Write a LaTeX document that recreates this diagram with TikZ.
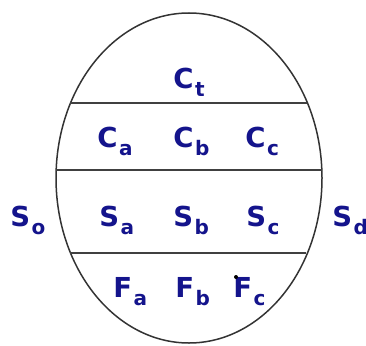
\documentclass[tikz,border=0pt]{standalone}
\usepackage{fontspec}
\setsansfont{DejaVu Sans}
\usetikzlibrary{positioning}
\definecolor{navy}{RGB}{20,20,140}
\newcommand{\lbl}[2]{#1\hspace{1.5pt}\raisebox{-8pt}{\fontsize{20}{20}\selectfont #2}}

\begin{document}
\begin{tikzpicture}[x=1pt, y=-1pt, thick,
    main/.style = {anchor=base west, inner sep=0pt, text=navy,
                   font=\sffamily\bfseries\fontsize{27.5}{30}\selectfont},
    rim/.style = {draw=black!80, line width=1.5pt},
    bar/.style = {draw=black!75, line width=2.2pt}]
        \useasboundingbox (0,0) rectangle (366,345);

        % Outline
        \draw[rim] (189,178) ellipse [x radius=133, y radius=165];

        % Ends of the bars
        \coordinate (l1w) at (70,103);
        \coordinate (l1e) at (307,103);
        \coordinate (l2w) at (56,170);
        \coordinate (l2e) at (322,170);
        \coordinate (l3w) at (70,253);
        \coordinate (l3e) at (306,253);

        % Nodes
        \node[main] (ct) at (173,88)  {\lbl{C}{t}};
        \node[main] (ca) at (97,147)  {\lbl{C}{a}};
        \node[main] (cb) at (173,147) {\lbl{C}{b}};
        \node[main] (cc) at (245,147) {\lbl{C}{c}};
        \node[main] (so) at (10,226)  {\lbl{S}{o}};
        \node[main] (sa) at (99,226)  {\lbl{S}{a}};
        \node[main] (sb) at (173,226) {\lbl{S}{b}};
        \node[main] (sc) at (246,226) {\lbl{S}{c}};
        \node[main] (sd) at (332,226) {\lbl{S}{d}};
        \node[main] (fa) at (113,297) {\lbl{F}{a}};
        \node[main] (fb) at (175,297) {\lbl{F}{b}};
        \node[main] (fc) at (233,297) {\lbl{F}{c}};

        % Bars
        \draw[bar] (l1w) -- (l1e);
        \draw[bar] (l2w) -- (l2e);
        \draw[bar] (l3w) -- (l3e);

        \fill (236,277) circle (2); % stray dot
      \end{tikzpicture}
\end{document}
